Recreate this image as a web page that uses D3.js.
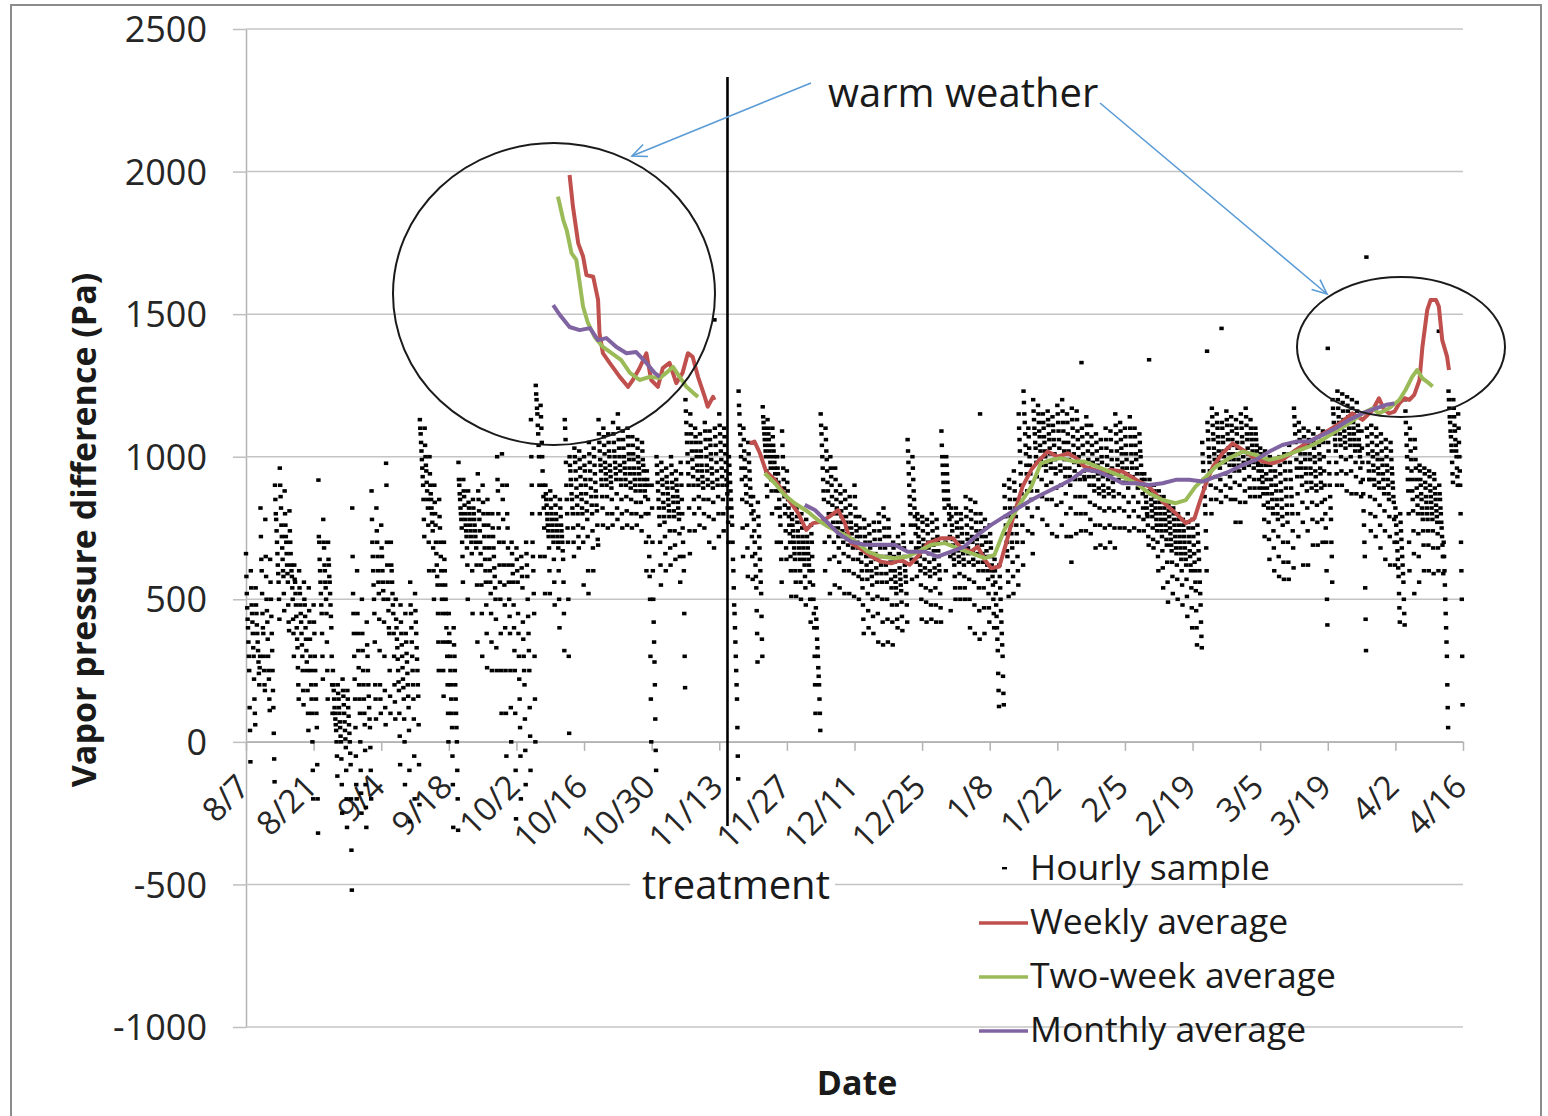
<!DOCTYPE html>
<html><head><meta charset="utf-8">
<script src="https://cdn.jsdelivr.net/npm/d3@7"></script>
<style>body{margin:0;background:#fff}svg{display:block}text{font-family:"Open Sans",sans-serif}</style>
</head><body><svg id="c" width="1548" height="1116"></svg>
<script>
const startDate = "2012-08-07";
const endDate = "2013-04-16";
const tickLabels = ["8/7","8/21","9/4","9/18","10/2","10/16","10/30","11/13","11/27","12/11","12/25","1/8","1/22","2/5","2/19","3/5","3/19","4/2","4/16"];
const yTicks = [-1000,-500,0,500,1000,1500,2000,2500];
const seriesNames = ["Hourly sample","Weekly average","Two-week average","Monthly average"];
const seriesColors = ["#000000","#c0504d","#9bbb59","#8064a2"];
const treatmentDay = 99.7;

// Hourly samples: one row per day from 8/7, readings every 2 hours (Pa)
const hourlySamples = [
[660,580,520,470,430,400,350,300,250,120,40,-70],[600,540,480,450,420,380,330,300,220,150,100,60],
[540,480,450,410,380,350,320,280,240,200,260,300],[820,720,640,600,520,450,400,380,300,250,200,180],
[780,650,580,500,460,420,360,300,250,220,150,110],[640,560,500,440,380,320,250,180,120,30,-60,-140],
[900,850,800,780,740,700,660,620,590,560,500,430],[960,900,860,820,760,720,680,640,600,580,520,460],
[880,800,760,720,700,660,620,590,560,480,420,390],[810,740,700,660,620,600,580,540,500,430,380,300],
[620,570,560,520,480,440,400,360,330,260,200,150],[600,540,520,480,450,420,380,340,300,250,180,130],
[560,500,480,440,400,360,320,280,250,180,100,40],[540,460,420,360,300,250,200,150,100,0,-100,-200],
[480,420,380,300,250,200,150,100,50,-80,-200,-320],[918,720,700,640,600,560,520,480,450,380,300,220],
[780,700,680,620,600,560,540,500,450,350,250,150],[700,640,620,580,560,520,480,440,400,300,200,100],
[250,200,180,150,120,100,80,60,40,0,-50,-120],[200,170,150,120,100,70,50,20,0,-60,-150,-250],
[220,180,160,130,100,70,40,10,-20,-100,-200,-300],[180,150,120,90,60,30,0,-40,-80,-200,-380,-520],
[820,650,520,450,380,300,220,150,50,-50,-150,-200],[600,450,380,320,260,200,150,100,0,-100,-180,-250],
[500,380,320,250,200,150,100,60,-30,-150,-230,-300],[420,340,300,250,200,160,120,80,50,-20,-100,-200],
[880,780,700,650,600,550,500,450,350,200,150,80],[820,740,700,650,600,560,520,430,320,200,150,100],
[760,680,650,600,560,530,500,420,300,180,120,60],[977,900,700,620,560,500,460,400,380,250,160,100],
[700,620,600,560,520,480,450,380,300,200,140,80],[500,430,400,360,330,290,250,210,180,100,20,-80],
[480,420,380,340,300,260,220,190,150,80,0,-150],[450,380,350,310,280,240,200,160,120,40,-100,-280],
[560,480,450,400,350,300,250,200,150,80,-50,-200],[520,460,420,380,330,290,250,200,160,60,-80,-220],
[1130,1100,1080,1050,1020,990,960,930,900,850,780,720],[1100,1040,1000,970,950,910,880,850,820,760,700,600],
[1000,940,900,870,850,820,800,770,740,680,600,500],[900,840,800,760,700,660,620,580,550,450,350,250],
[850,790,750,700,650,600,550,500,450,350,250,160],[700,640,600,550,500,450,400,350,300,200,100,0],
[450,380,350,300,250,200,150,100,50,-50,-150,-300],[400,340,300,250,200,150,100,50,0,-100,-200,-310],
[980,920,900,870,850,820,800,780,750,700,650,560],[920,880,860,830,800,780,760,740,720,680,620,500],
[880,840,820,800,780,760,740,720,700,660,600,450],[850,820,800,780,760,740,720,700,680,620,550,350],
[940,880,850,810,780,740,700,660,620,550,450,300],[900,840,800,760,720,680,640,600,560,480,380,260],
[850,800,760,720,680,640,600,560,520,450,350,250],[800,750,720,680,650,610,580,540,500,430,330,250],
[1000,920,880,800,750,700,620,560,500,380,250,100],[1010,900,850,780,700,620,550,480,400,250,100,-50],
[900,800,750,680,620,560,500,440,380,250,120,0],[700,660,620,590,560,480,400,320,250,100,-100,-270],
[680,640,600,560,450,380,300,220,150,50,-50,-200],[650,610,580,540,420,360,300,250,200,80,-30,-150],
[700,660,620,580,500,440,380,320,250,120,20,-100],[1130,1000,900,800,700,650,600,520,450,300,150,0],
[1250,1220,1200,1170,1150,1110,1080,1040,1000,900,800,650],[1180,1140,1100,1050,1000,950,900,860,820,750,650,520],
[900,870,850,830,800,780,760,740,720,680,600,520],[880,850,820,800,780,760,740,720,700,640,560,480],
[860,830,800,780,760,740,720,700,680,600,500,400],[850,820,790,760,740,720,700,670,640,560,450,320],
[1130,1100,1060,980,900,850,800,750,700,500,300,30],[1000,970,950,920,900,870,850,820,800,750,700,650],
[1030,1000,980,950,920,890,860,830,800,760,720,680],[1020,990,960,930,900,870,850,820,800,750,700,550],
[1000,970,950,920,900,870,840,810,780,720,600,520],[1050,1010,980,950,920,890,860,830,800,740,680,600],
[1030,1000,970,940,910,880,860,830,810,760,710,690],[1130,1080,1050,1020,990,970,950,920,900,860,820,760],
[1100,1070,1040,1010,980,960,940,920,900,860,800,750],[1080,1050,1020,1000,970,950,930,910,890,850,800,760],
[1120,1080,1050,1020,1000,980,960,940,920,870,820,780],[1150,1100,1060,1030,1000,970,950,920,900,850,800,750],
[1090,1060,1030,1000,980,960,940,920,900,860,810,760],[1100,1070,1040,1010,990,960,940,910,890,850,800,750],
[1070,1040,1010,990,960,940,920,900,880,840,800,760],[1060,1030,1000,980,960,940,920,900,880,840,790,740],
[1050,1020,990,970,950,920,900,880,860,800,700,600],[950,920,900,850,800,720,650,580,500,300,150,0],
[900,820,700,600,500,420,350,280,200,80,-30,-100],[1000,970,940,910,880,850,820,790,760,700,620,550],
[980,950,920,900,870,840,820,790,770,720,660,600],[960,930,910,890,870,850,830,810,790,740,680,620],
[1000,970,940,910,890,860,840,810,790,740,690,640],[950,920,900,880,860,840,820,800,780,730,650,560],
[980,940,900,850,800,750,700,650,600,450,300,190],[1200,1160,1120,1080,1050,1010,980,940,900,820,740,660],
[1150,1110,1080,1050,1020,990,960,930,900,850,800,740],[1100,1070,1050,1020,1000,970,950,920,900,860,820,760],
[1080,1050,1020,1000,970,950,930,910,890,850,800,750],[1120,1090,1060,1030,1000,970,950,920,900,850,790,700],
[1090,1060,1040,1010,990,960,940,910,890,840,780,680],[1480,1100,1070,1040,1010,980,950,920,900,860,800,720],
[1150,1110,1080,1050,1020,990,960,930,900,850,800,740],[1100,1070,1040,1010,980,950,920,900,870,820,770,700],
[1000,970,940,910,880,850,820,790,760,700,640,600],[540,480,450,400,350,300,250,200,150,50,-50,-130],
[1230,1180,1150,1110,1080,1040,1000,960,920,850,750,650],[1100,1060,1020,990,960,930,900,870,840,760,680,580],
[1050,1010,980,950,920,890,860,830,800,720,650,570],[860,810,780,740,700,660,620,580,540,460,380,280],
[840,790,760,720,680,640,600,560,520,440,360,300],[1175,1140,1120,1100,1080,1060,1040,1020,1000,950,900,860],
[1130,1100,1080,1060,1040,1020,1000,980,960,920,880,800],[1100,1070,1040,1020,1000,980,960,940,920,880,820,700],
[1000,960,940,910,880,850,820,790,760,700,640,560],[1090,1040,1000,960,920,890,860,830,800,740,680,640],
[950,910,880,850,820,790,760,730,700,650,600,510],[800,780,760,740,720,700,680,660,640,600,560,510],
[820,790,770,740,720,700,680,660,640,600,560,500],[800,770,750,720,700,680,660,640,620,580,540,480],
[780,750,720,700,680,660,640,620,600,560,500,420],[760,730,700,650,600,550,500,450,400,300,200,100],
[470,430,400,360,330,300,260,230,200,150,100,40],[1150,1110,1080,1040,1000,960,920,880,850,780,700,600],
[1100,1060,1020,990,950,910,880,840,800,720,640,520],[1000,960,930,900,860,830,800,770,750,700,650,550],
[960,920,880,850,820,800,770,750,720,680,630,540],[900,870,840,810,790,770,740,720,700,660,600,520],
[880,850,820,790,770,750,730,710,690,650,600,520],[860,830,800,770,750,730,710,700,680,640,590,510],
[900,860,820,790,760,740,720,700,680,640,580,500],[790,750,720,690,660,630,600,570,540,480,430,380],
[780,750,720,700,670,650,620,600,570,520,460,400],[760,730,700,680,650,630,600,580,550,500,440,380],
[770,740,710,690,660,640,610,590,560,510,450,350],[800,770,740,710,680,650,620,590,560,500,420,340],
[820,790,750,720,680,650,620,590,560,500,430,350],[780,750,720,690,660,630,600,570,540,480,420,340],
[700,680,650,630,600,580,560,540,520,480,430,400],[720,690,660,640,610,590,570,550,530,490,440,390],
[760,730,700,680,650,620,600,580,560,520,480,420],[1060,1020,980,940,900,860,830,800,760,700,640,570],
[1000,960,920,880,850,820,790,760,730,680,630,580],[800,780,750,720,700,680,650,620,600,550,500,430],
[790,770,740,710,690,670,640,610,590,540,490,420],[780,760,730,700,680,660,630,600,580,530,480,430],
[800,770,740,710,690,670,640,610,590,540,480,420],[780,750,720,700,670,650,620,600,570,520,470,420],
[1090,1040,1000,970,940,910,880,850,820,760,700,600],[1000,970,940,910,880,850,830,800,780,720,650,460],
[820,790,760,740,710,690,660,640,620,580,540,500],[820,800,770,750,720,700,670,650,630,590,540,500],
[800,780,750,730,700,680,660,640,620,580,540,500],[860,820,790,760,730,710,680,660,630,570,500,400],
[850,810,780,750,720,700,670,640,620,560,480,380],[840,800,770,740,710,690,660,630,600,540,460,360],
[1150,800,770,740,720,690,660,630,600,540,470,380],[780,750,720,700,670,650,620,600,570,520,470,420],
[760,730,700,680,650,620,600,580,550,500,450,400],[640,600,560,520,480,440,400,360,320,240,180,124],
[620,580,540,500,460,420,380,340,300,230,170,130],[900,860,820,790,760,730,700,670,650,600,560,510],
[920,890,850,820,790,760,730,700,680,630,580,520],[950,910,880,850,820,790,760,730,700,650,600,550],
[1150,1100,1060,1020,980,940,900,870,830,760,700,620],[1230,1190,1150,1120,1080,1040,1010,970,940,880,820,740],
[1100,1070,1030,1000,970,940,910,880,850,790,730,660],[1200,1160,1130,1100,1080,1050,1030,1000,980,930,880,820],
[1180,1150,1120,1090,1070,1040,1020,990,970,920,860,780],[1150,1120,1100,1070,1050,1020,1000,970,950,900,850,760],
[1160,1130,1110,1080,1060,1030,1010,980,960,910,850,730],[1140,1110,1090,1060,1040,1010,990,960,940,890,830,720],
[1180,1150,1120,1090,1060,1030,1000,970,950,900,840,760],[1200,1160,1120,1090,1050,1020,990,960,930,870,800,720],
[1150,1120,1080,1050,1020,990,960,930,900,820,720,630],[1170,1130,1100,1070,1040,1010,980,950,920,860,800,730],
[1160,1130,1090,1060,1030,1000,970,940,920,860,800,740],[1330,1100,1070,1040,1010,980,950,930,920,860,800,740],
[1140,1110,1080,1050,1020,990,960,930,900,840,780,730],[1110,1070,1040,1010,980,950,930,900,880,830,760,680],
[1080,1050,1020,990,970,940,920,890,870,820,760,690],[1060,1030,1000,980,950,930,900,880,860,810,750,680],
[1100,1060,1030,1000,970,940,920,890,870,820,760,700],[1090,1060,1020,990,960,940,910,880,860,810,750,680],
[1150,1110,1080,1050,1020,990,970,940,920,870,820,750],[1120,1090,1060,1030,1010,980,960,930,910,860,810,750],
[1100,1070,1040,1010,990,960,940,910,890,840,790,740],[1140,1100,1070,1040,1010,980,960,930,910,860,810,750],
[1100,1070,1040,1010,990,960,940,910,890,840,790,740],[1080,1050,1020,1000,970,940,920,900,870,820,780,740],
[940,920,900,880,860,840,820,800,790,760,720,690],[1340,920,900,880,870,850,830,810,790,750,710,680],
[900,880,860,840,820,800,780,760,740,700,650,600],[880,860,840,820,800,780,760,740,720,670,610,540],
[860,840,820,800,780,760,740,710,690,630,560,490],[830,810,790,770,750,730,710,690,670,630,580,520],
[820,800,780,760,740,720,700,680,660,620,570,500],[800,780,760,740,720,700,680,660,640,600,550,480],
[780,760,740,720,700,680,660,640,620,570,510,440],[800,770,750,720,700,670,650,620,600,540,470,400],
[780,750,720,690,660,630,600,560,530,460,400,340],[760,730,700,670,640,600,560,520,480,420,370,330],
[1050,1010,980,950,920,890,860,830,800,740,680,600],[1370,1120,1090,1060,1030,1000,980,950,950,900,850,800],
[1170,1140,1110,1080,1060,1030,1010,990,970,930,890,850],[1150,1120,1100,1070,1050,1020,1000,980,960,920,880,840],
[1450,1120,1100,1070,1050,1020,1000,980,980,940,900,860],[1160,1130,1110,1080,1060,1030,1010,990,970,930,890,850],
[1140,1110,1090,1060,1040,1010,990,970,950,910,850,770],[1130,1100,1080,1050,1030,1010,990,970,950,900,840,770],
[1150,1120,1100,1070,1050,1020,1000,980,960,920,880,840],[1170,1140,1110,1080,1060,1030,1010,990,970,930,890,860],
[1130,1100,1080,1060,1040,1020,1000,980,960,920,890,860],[1100,1080,1060,1040,1020,1000,980,970,950,920,890,860],
[1030,1010,990,970,950,930,910,890,870,830,780,720],[1020,990,970,940,920,890,870,840,820,770,710,640],
[1000,970,950,920,900,870,850,820,800,740,680,600],[980,950,930,900,880,850,830,800,780,720,650,580],
[1000,970,940,910,880,850,820,790,760,700,630,570],[1010,980,950,920,890,860,830,800,770,700,630,570],
[1040,1010,980,950,920,890,860,830,800,740,680,610],[1170,1140,1110,1080,1050,1020,990,960,930,870,800,720],
[1120,1090,1060,1030,1010,980,960,930,900,840,770,620],[1100,1070,1040,1010,990,960,940,910,880,820,740,620],
[1090,1060,1040,1010,990,960,940,910,890,840,780,690],[1080,1050,1030,1000,980,950,930,900,880,830,770,690],
[1100,1070,1040,1010,990,960,940,910,890,840,780,700],[1090,1050,1000,950,900,850,800,750,700,600,500,410],
[1380,1050,1020,980,940,900,860,820,780,700,650,560],[1200,1170,1150,1120,1100,1080,1060,1040,1020,980,940,900],
[1230,1200,1170,1140,1120,1100,1080,1060,1040,1000,950,900],[1220,1190,1160,1130,1110,1090,1070,1050,1030,990,940,880],
[1210,1180,1160,1140,1120,1100,1080,1060,1040,1000,950,870],[1200,1170,1150,1120,1100,1080,1060,1040,1020,980,930,870],
[1190,1160,1140,1110,1090,1060,1040,1020,1000,960,910,860],[1090,1030,980,920,870,810,760,700,650,540,430,320],
[1700,1100,1070,1040,1010,980,950,920,920,860,800,740],[1110,1080,1050,1020,1000,970,950,920,900,850,790,720],
[1100,1070,1040,1010,990,960,940,910,890,830,760,680],[1080,1050,1020,990,970,940,920,890,870,810,740,640],
[1060,1030,1000,970,950,920,900,870,850,790,720,620],[1050,1020,990,960,940,910,890,860,840,780,700,620],
[820,790,760,730,700,670,640,610,580,520,470,420],[800,770,740,710,680,650,620,590,560,500,450,410],
[1200,1160,1120,1080,1040,1000,960,920,880,800,700,600],[1100,1060,1020,990,950,920,880,850,810,740,660,520],
[1060,1030,990,960,920,890,860,830,800,730,650,560],[970,950,920,900,870,850,820,800,780,740,690,600],
[960,940,910,890,860,840,820,800,780,740,690,600],[950,930,900,880,860,840,820,800,780,740,680,590],
[940,920,890,870,850,830,810,790,770,730,680,600],[1440,900,870,850,820,800,770,750,720,690,650,590],
[700,650,600,550,500,450,400,350,300,200,120,50],[1230,1200,1170,1140,1120,1090,1070,1040,1020,980,940,910],
[1200,1170,1140,1110,1090,1060,1040,1020,1000,960,930,900],[1150,1100,1050,1000,950,900,800,700,600,500,300,130]
];

// Moving averages: [days since 8/7, Pa]
const weeklyBefore = [[67.0,1988],[67.7,1877],[68.8,1748],[69.8,1702],[70.5,1637],[71.9,1631],[72.9,1550],[73.2,1433],[73.9,1363],[75.3,1329],[77.4,1280],[79.1,1245],[80.1,1269],[81.5,1311],[82.9,1363],[83.9,1269],[85.3,1245],[86.3,1311],[87.7,1329],[89.1,1258],[90.4,1294],[91.5,1363],[92.5,1350],[93.6,1280],[95.0,1210],[95.6,1175],[96.7,1210],[97.0,1199]];
const weeklyAfter = [[104.3,1047],[105.3,1053],[106.4,1013],[107.7,948],[109.5,919],[111.9,860],[114.3,803],[116.0,743],[117.4,767],[119.1,772],[120.8,790],[122.6,813],[124.0,767],[125.3,697],[127.0,680],[129.5,650],[131.5,632],[133.6,626],[135.7,638],[137.4,621],[139.1,650],[141.2,697],[143.9,714],[146.4,714],[148.1,679],[150.1,667],[151.5,685],[153.0,638],[154.3,609],[156.0,615],[157.4,697],[159.1,802],[160.8,895],[162.6,954],[164.3,989],[166.0,1018],[168.1,1000],[170.2,1012],[171.9,995],[173.6,965],[175.7,954],[177.7,942],[178.8,954],[181.5,948],[184.3,919],[187.0,895],[189.8,842],[192.5,802],[194.6,767],[196.4,784],[197.4,837],[198.8,907],[200.2,965],[202.2,1012],[204.3,1047],[206.4,1024],[208.4,1000],[210.5,983],[212.5,977],[214.6,989],[217.4,1024],[219.5,1047],[221.5,1065],[224.3,1094],[227.0,1123],[229.1,1152],[231.2,1129],[233.3,1164],[234.6,1205],[235.7,1164],[236.7,1152],[237.8,1158],[238.8,1187],[239.9,1205],[240.9,1199],[241.9,1217],[243.0,1269],[243.6,1386],[244.6,1515],[245.3,1550],[246.4,1550],[247.0,1527],[247.7,1409],[248.7,1351],[249.1,1304]];
const twoWeekBefore = [[64.6,1912],[65.7,1830],[66.4,1795],[67.4,1714],[68.4,1690],[69.1,1609],[69.8,1526],[70.8,1469],[72.2,1420],[73.9,1385],[75.7,1363],[77.7,1339],[79.5,1294],[81.5,1269],[83.6,1280],[85.7,1276],[87.0,1294],[88.4,1315],[89.8,1280],[91.2,1245],[92.6,1224],[93.6,1210]];
const twoWeekAfter = [[107.4,942],[109.5,907],[111.5,866],[113.6,837],[116.3,808],[118.4,778],[120.5,755],[122.6,737],[124.6,720],[126.7,697],[128.8,667],[131.5,650],[134.3,644],[137.0,650],[139.1,667],[141.9,691],[144.7,697],[147.4,679],[150.1,662],[153.0,644],[155.0,656],[157.0,743],[159.1,802],[160.8,848],[162.6,895],[164.6,977],[166.7,989],[168.8,995],[171.5,983],[173.6,983],[176.3,965],[178.8,948],[181.5,930],[184.3,907],[187.0,872],[189.8,848],[192.5,837],[194.6,848],[196.6,895],[198.8,930],[200.8,965],[203.6,995],[206.4,1018],[209.1,1006],[211.9,989],[214.6,1000],[217.4,1018],[220.1,1035],[222.9,1059],[225.6,1088],[228.4,1117],[231.2,1152],[233.3,1170],[234.6,1152],[236.7,1170],[238.8,1199],[240.1,1234],[241.5,1281],[242.5,1304],[243.6,1275],[245.0,1257],[245.7,1246]];
const monthlyBefore = [[63.6,1532],[65.0,1497],[67.0,1455],[69.1,1444],[71.2,1451],[72.9,1409],[74.6,1416],[76.7,1385],[78.8,1363],[80.8,1367],[82.9,1329],[84.6,1294],[85.7,1280]];
const monthlyAfter = [[115.7,831],[117.8,813],[119.9,778],[122.6,732],[125.3,702],[128.1,691],[131.5,691],[134.3,691],[137.0,667],[140.5,667],[143.2,650],[146.0,667],[148.8,685],[151.5,726],[154.3,761],[157.0,790],[159.8,819],[162.6,848],[165.3,872],[168.1,895],[170.8,919],[173.6,954],[176.3,948],[178.8,930],[181.5,907],[184.3,907],[187.0,901],[189.8,907],[192.5,919],[195.3,919],[198.1,913],[200.8,930],[203.6,948],[206.4,971],[209.1,989],[211.9,1018],[214.6,1041],[217.4,1053],[220.1,1053],[222.9,1076],[225.6,1100],[228.4,1129],[231.2,1152],[234.0,1170],[236.1,1182],[237.8,1187]];

const svg = d3.select("#c");
const t0 = d3.utcParse("%Y-%m-%d")(startDate), t1 = d3.utcParse("%Y-%m-%d")(endDate);
const dayMs = 864e5;
const toDate = d => new Date(t0.getTime() + d * dayMs);
const x = d3.scaleUtc().domain([t0, t1]).range([246, 1463]);
const y = d3.scaleLinear().domain([-1000, 2500]).range([1027, 29]);

// frame
svg.append("rect").attr("x", 11).attr("y", 5).attr("width", 1530).attr("height", 1125)
  .attr("fill", "none").attr("stroke", "#8c8c8c").attr("stroke-width", 2);

// gridlines + y axis
const gy = svg.append("g").attr("transform", "translate(246,0)")
  .call(d3.axisLeft(y).tickValues(yTicks).tickSize(13).tickSizeOuter(0).tickFormat(d => String(d)));
gy.select(".domain").attr("stroke", "#b3b3b3").attr("stroke-width", 1.5);
gy.selectAll(".tick line").attr("stroke", "#bfbfbf").attr("stroke-width", 1.5);
gy.selectAll(".tick text").attr("x", -39).attr("dy", "0.35em").attr("font-size", 36)
  .attr("fill", "#262626").attr("font-family", "Open Sans");
svg.append("g").selectAll("line").data(yTicks).join("line")
  .attr("x1", 246).attr("x2", 1463).attr("y1", d => y(d)).attr("y2", d => y(d))
  .attr("stroke", "#c4c4c4").attr("stroke-width", 1.5);

// x axis at zero
const tickDates = tickLabels.map((_, i) => toDate(i * 14));
const gx = svg.append("g").attr("transform", `translate(0,${y(0)})`)
  .call(d3.axisBottom(x).tickValues(tickDates).tickSize(9).tickSizeOuter(0).tickFormat((d, i) => tickLabels[i]));
gx.select(".domain").attr("stroke", "#b3b3b3").attr("stroke-width", 1.5);
gx.selectAll(".tick line").attr("stroke", "#b3b3b3").attr("stroke-width", 1.5);
gx.selectAll(".tick text").attr("y", 0).attr("dy", 0).attr("font-size", 33).attr("fill", "#262626")
  .attr("font-family", "Open Sans").attr("text-anchor", "end")
  .attr("transform", "translate(5,47) rotate(-45)");

// hourly samples
const pts = [];
hourlySamples.forEach((vals, d) => vals.forEach((v, k) => pts.push([d + k / vals.length, v])));
svg.append("g").selectAll("rect").data(pts).join("rect")
  .attr("x", d => x(toDate(d[0])) - 2.2).attr("y", d => y(d[1]) - 1.8)
  .attr("width", 4.4).attr("height", 3.6).attr("fill", "#000");

// moving averages
const line = d3.line().x(d => x(toDate(d[0]))).y(d => y(d[1]));
const segs = [[weeklyBefore, 1], [weeklyAfter, 1], [twoWeekBefore, 2], [twoWeekAfter, 2], [monthlyBefore, 3], [monthlyAfter, 3]];
segs.forEach(([data, ci]) => svg.append("path").attr("d", line(data)).attr("fill", "none")
  .attr("stroke", seriesColors[ci]).attr("stroke-width", 4).attr("stroke-linejoin", "round"));

// treatment line
svg.append("line").attr("x1", x(toDate(treatmentDay))).attr("x2", x(toDate(treatmentDay)))
  .attr("y1", y(2332)).attr("y2", y(-295)).attr("stroke", "#000").attr("stroke-width", 2.6);
svg.append("rect").attr("x", 630).attr("y", 868).attr("width", 205).attr("height", 40).attr("fill", "#fff");
svg.append("text").attr("x", 736).attr("y", 899).attr("text-anchor", "middle").attr("font-size", 40)
  .attr("fill", "#1a1a1a").text("treatment");

// warm weather annotation
svg.append("text").attr("x", 828).attr("y", 107).attr("font-size", 40).attr("fill", "#1a1a1a").text("warm weather");
svg.append("ellipse").attr("cx", 554).attr("cy", 294).attr("rx", 161).attr("ry", 151)
  .attr("fill", "none").attr("stroke", "#1a1a1a").attr("stroke-width", 2);
svg.append("ellipse").attr("cx", 1401).attr("cy", 347).attr("rx", 104).attr("ry", 70)
  .attr("fill", "none").attr("stroke", "#1a1a1a").attr("stroke-width", 2);
function arrow(x1, y1, x2, y2) {
  const g = svg.append("g").attr("stroke", "#5b9bd5").attr("stroke-width", 1.6).attr("fill", "none");
  g.append("line").attr("x1", x1).attr("y1", y1).attr("x2", x2).attr("y2", y2);
  const a = Math.atan2(y2 - y1, x2 - x1), L = 16, s = 0.42;
  g.append("path").attr("d", `M${x2 - L * Math.cos(a - s)},${y2 - L * Math.sin(a - s)}L${x2},${y2}L${x2 - L * Math.cos(a + s)},${y2 - L * Math.sin(a + s)}`);
}
arrow(811, 83, 632, 156);
arrow(1100, 103, 1327, 294);

// axis titles
svg.append("text").attr("transform", "translate(96,530) rotate(-90)").attr("text-anchor", "middle")
  .attr("font-size", 34).attr("font-weight", "bold").attr("fill", "#1a1a1a").text("Vapor pressure difference (Pa)");
svg.append("text").attr("x", 857).attr("y", 1095).attr("text-anchor", "middle")
  .attr("font-size", 34).attr("font-weight", "bold").attr("fill", "#1a1a1a").text("Date");

// legend
const lg = svg.append("g");
seriesNames.forEach((name, i) => {
  const cy = 868 + i * 54;
  if (i === 0) lg.append("rect").attr("x", 1002).attr("y", cy - 1).attr("width", 5).attr("height", 2.4).attr("fill", "#000");
  else lg.append("line").attr("x1", 979).attr("x2", 1028).attr("y1", cy + 1).attr("y2", cy + 1)
    .attr("stroke", seriesColors[i]).attr("stroke-width", 3.4);
  lg.append("text").attr("x", 1030).attr("y", cy + 12).attr("font-size", 35.5).attr("fill", "#1a1a1a").text(name);
});
</script></body></html>
